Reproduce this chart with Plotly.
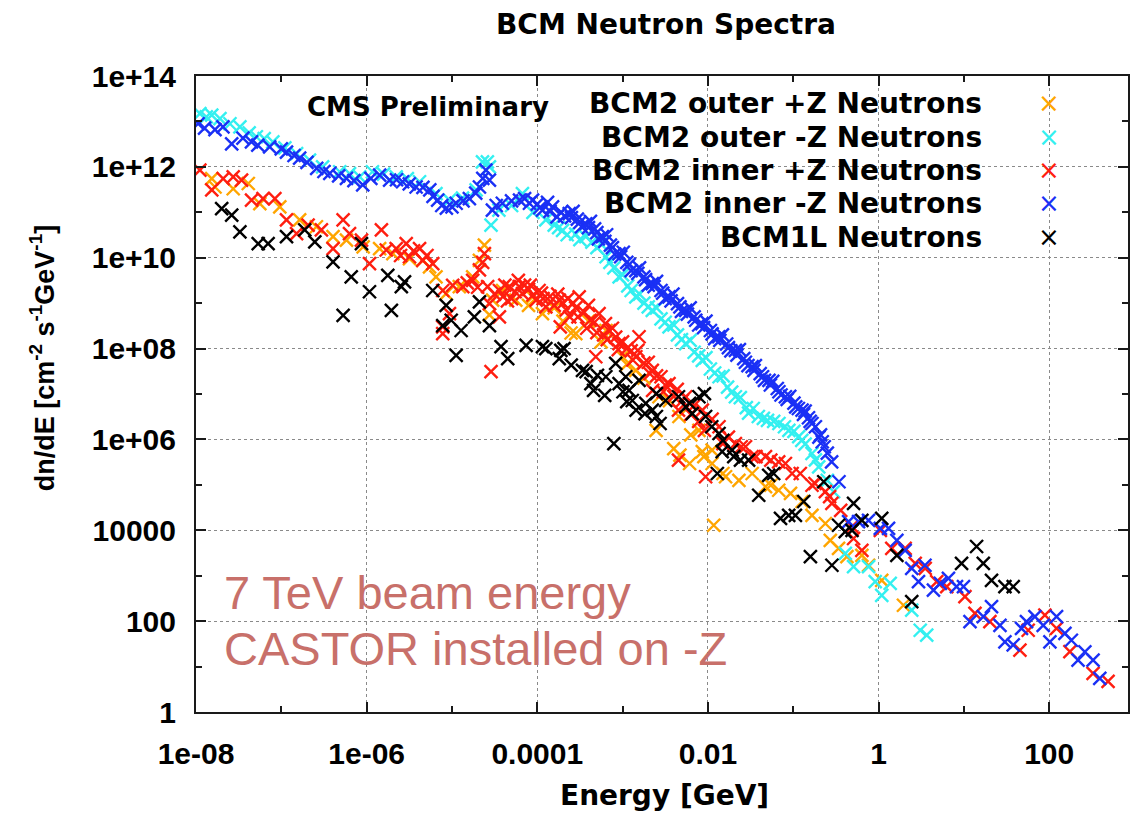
import plotly.graph_objects as go

# ---------------- data ----------------
orange_E = [1.53e-8, 1.67e-8, 2.73e-8, 4.1e-8, 5.6e-8, 9.6e-8, 1.64e-7, 2.58e-7, 4.04e-7, 5.8e-7,
            9.1e-7, 1.42e-6, 2.03e-6, 3.18e-6, 4.55e-6, 5.46e-6, 6.5e-6, 8.55e-6, 1.22e-5, 1.75e-5,
            2.1e-5, 2.4e-5, 2.75e-5, 3.0e-5, 3.93e-5, 5.6e-5, 7.9e-5, 8.8e-5, 1.15e-4, 1.58e-4,
            2.0e-4, 2.49e-4, 2.83e-4, 3.98e-4, 5.6e-4, 6.4e-4, 9.95e-4, 1.12e-3, 1.43e-3, 1.78e-3,
            2.47e-3, 2.67e-3, 3.55e-3, 3.98e-3, 4.58e-3, 4.7e-3, 6.1e-3, 6.3e-3, 7.85e-3, 8.6e-3,
            8.97e-3, 1.12e-2, 1.12e-2, 1.17e-2, 1.5e-2, 1.61e-2, 2.31e-2, 3.3e-2, 4.73e-2, 5.46e-2,
            6.76e-2, 9.3e-2, 0.127, 0.166, 0.238, 0.272, 0.34, 0.426, 0.638, 0.764,
            1.09, 1.96]
orange_V = [5.5e11, 3.6e11, 3.3e11, 4.3e11, 1.55e11, 1.32e11, 6.8e10, 4.8e10, 2.9e10, 2.45e10,
            1.74e10, 1.58e10, 1.23e10, 9.5e9, 8.7e9, 6.3e9, 3.8e9, 1.62e9, 2.3e9, 3.8e9,
            8.7e9, 1.9e10, 5.5e8, 1.17e9, 1.9e9, 1.17e9, 8.9e8, 1.38e9, 5.9e8, 7.9e8,
            4.0e8, 2.2e8, 2.14e8, 4.0e8, 1.41e8, 2.5e8, 6.6e7, 4.5e7, 3.3e7, 2.24e7,
            1.58e6, 8.7e6, 7.1e6, 6.3e5, 3.2e6, 4.5e5, 2.95e5, 1.26e6, 1.58e6, 5.4e5,
            4.2e5, 5.8e5, 2.95e5, 1.29e4, 1.78e5, 1.51e5, 1.26e5, 1.78e5, 9.1e4, 9.8e4,
            7.6e4, 6.5e4, 4.3e4, 2.14e4, 1.41e4, 6.0e3, 4.0e3, 2.63e3, 2.8e3, 1.7e3,
            790, 224]

cyan_E = [1.11e-8, 1.32e-8, 1.53e-8, 1.91e-8, 2.5e-8, 3.27e-8, 4.2e-8, 5.1e-8, 6.3e-8, 7.96e-8,
          1.1e-7, 1.51e-7, 2.14e-7, 3.05e-7, 4.83e-7, 6.3e-7, 8.3e-7, 1.17e-6, 1.58e-6, 2.22e-6,
          3.0e-6, 4.17e-6, 6.5e-6, 9.35e-6, 1.33e-5, 1.92e-5, 2.28e-5, 2.6e-5, 2.75e-5, 2.87e-5,
          3.55e-5, 5.0e-5, 6.7e-5, 8.9e-5, 1.26e-4, 1.58e-4, 1.78e-4, 1.98e-4, 2.24e-4, 2.82e-4,
          3.16e-4, 3.7e-4, 4.37e-4, 5.0e-4, 5.6e-4, 6.4e-4, 7.1e-4, 7.9e-4, 9.1e-4, 1.0e-3,
          1.15e-3, 1.26e-3, 1.43e-3, 1.58e-3, 1.78e-3, 2.0e-3, 2.23e-3, 2.5e-3, 2.82e-3, 3.16e-3,
          3.5e-3, 4.0e-3, 4.4e-3, 4.9e-3, 5.5e-3, 6.2e-3, 6.9e-3, 7.8e-3, 8.6e-3, 9.5e-3,
          1.07e-2, 1.2e-2, 1.35e-2, 1.51e-2, 1.7e-2, 1.9e-2, 2.1e-2, 2.4e-2, 2.82e-2, 3.0e-2,
          3.4e-2, 3.9e-2, 4.47e-2, 5.0e-2, 5.9e-2, 6.8e-2, 7.9e-2, 8.9e-2, 0.102, 0.116,
          0.126, 0.138, 0.166, 0.182, 0.199, 0.251, 0.297, 0.408, 0.51, 0.764,
          0.914, 1.09, 1.37, 2.45, 3.08, 3.67]
cyan_V = [1.48e13, 1.26e13, 1.38e13, 1.15e13, 8.9e12, 7.6e12, 5.6e12, 4.6e12, 4.2e12, 3.55e12,
          2.63e12, 1.95e12, 1.41e12, 1.0e12, 7.8e11, 7.1e11, 6.0e11, 7.8e11, 6.9e11, 6.0e11,
          5.5e11, 4.7e11, 2.57e11, 1.86e11, 2.04e11, 3.1e11, 1.29e12, 1.29e12, 1.0e12, 5.2e10,
          1.12e11, 1.41e11, 2.57e11, 1.0e11, 6.8e10, 5.2e10, 4.6e10, 4.0e10, 3.2e10, 3.3e10,
          2.5e10, 2.9e10, 2.2e10, 1.66e10, 2.0e10, 1.05e10, 7.9e9, 6.0e9, 3.8e9, 4.2e9,
          2.4e9, 1.9e9, 1.38e9, 1.58e9, 1.0e9, 8.3e8, 6.9e8, 7.9e8, 4.5e8, 3.8e8,
          3.0e8, 3.3e8, 2.0e8, 1.58e8, 1.29e8, 1.51e8, 8.3e7, 6.9e7, 5.5e7, 6.3e7,
          3.55e7, 2.9e7, 2.4e7, 2.5e7, 1.41e7, 1.1e7, 8.7e6, 8.3e6, 5.0e6, 3.8e6,
          4.8e6, 3.2e6, 2.9e6, 2.63e6, 2.5e6, 2.24e6, 1.9e6, 1.58e6, 1.51e6, 1.15e6,
          9.5e5, 7.9e5, 4.9e5, 3.55e5, 2.5e5, 1.26e5, 7.1e4, 3.1e3, 1.58e3, 1.58e3,
          740, 370, 680, 174, 63, 49]

red_E = [1.11e-8, 1.53e-8, 2.08e-8, 2.73e-8, 3.42e-8, 4.48e-8, 6.1e-8, 8.4e-8, 1.15e-7, 1.51e-7,
         2.06e-7, 2.95e-7, 4.04e-7, 5.3e-7, 6.3e-7, 8.7e-7, 1.08e-6, 1.49e-6, 1.7e-6, 2.22e-6,
         2.5e-6, 2.91e-6, 3.18e-6, 3.55e-6, 4.17e-6, 4.55e-6, 5.1e-6, 5.96e-6, 7.8e-6, 7.8e-6,
         7.8e-6, 9.35e-6, 1.02e-5, 1.34e-5, 1.51e-5, 1.75e-5, 2.0e-5, 2.1e-5, 2.29e-5, 2.4e-5,
         2.62e-5, 2.75e-5, 2.87e-5, 3.16e-5, 3.6e-5, 3.6e-5, 3.98e-5, 4.17e-5, 4.47e-5, 4.7e-5,
         5.0e-5, 5.5e-5, 6.0e-5, 6.15e-5, 6.7e-5, 7.1e-5, 7.9e-5, 8.3e-5, 8.9e-5, 9.7e-5,
         1.05e-4, 1.12e-4, 1.17e-4, 1.26e-4, 1.41e-4, 1.58e-4, 1.74e-4, 1.81e-4, 1.86e-4, 2.0e-4,
         2.19e-4, 2.29e-4, 2.4e-4, 2.63e-4, 2.82e-4, 3.0e-4, 3.1e-4, 3.55e-4, 3.8e-4, 3.98e-4,
         4.17e-4, 4.7e-4, 4.85e-4, 5.0e-4, 5.3e-4, 6.0e-4, 6.3e-4, 6.6e-4, 6.95e-4, 7.6e-4,
         8.3e-4, 8.9e-4, 9.1e-4, 1.0e-3, 1.12e-3, 1.26e-3, 1.32e-3, 1.43e-3, 1.51e-3, 1.56e-3,
         1.78e-3, 2.0e-3, 2.09e-3, 2.23e-3, 2.25e-3, 2.5e-3, 2.82e-3, 3.0e-3, 3.16e-3, 3.5e-3,
         3.98e-3, 4.37e-3, 4.52e-3, 4.52e-3, 5.0e-3, 5.5e-3, 6.3e-3, 6.9e-3, 7.8e-3, 8.6e-3,
         9.1e-3, 9.4e-3, 1.12e-2, 1.35e-2, 1.5e-2, 1.74e-2, 2.1e-2, 2.46e-2, 2.76e-2, 3.3e-2,
         3.66e-2, 4.73e-2, 5.46e-2, 6.76e-2, 8.1e-2, 9.7e-2, 0.121, 0.166, 0.18, 0.238,
         0.267, 0.284, 0.36, 0.489, 0.51, 0.638, 1.05, 1.43, 2.05, 2.69,
         3.52, 4.81, 6.3, 10.3, 13.5, 20.2, 45.4, 56.8, 89.1, 122,
         175, 327, 490]
red_V = [8.5e11, 3.1e11, 5.5e11, 6.0e11, 5.1e11, 1.86e11, 2.0e11, 2.0e11, 6.8e10, 3.4e10,
         5.2e10, 4.1e10, 1.58e10, 6.8e10, 3.4e10, 2.45e10, 7.4e9, 4.1e10, 1.48e10, 1.58e10,
         1.12e10, 2.04e10, 1.05e10, 1.41e10, 1.58e10, 8.7e9, 1.12e10, 7.4e9, 1.9e9, 3.0e8,
         2.14e8, 5.9e8, 2.45e9, 2.3e9, 2.8e9, 3.16e9, 2.24e9, 5.4e9, 7.9e9, 1.23e10,
         2.3e9, 9.8e8, 3.1e7, 1.58e9, 1.9e9, 5.0e8, 1.41e9, 2.5e9, 1.12e9, 2.3e9,
         1.26e9, 1.78e9, 3.16e9, 2.3e9, 1.62e9, 2.5e9, 2.0e9, 2.5e9, 1.51e9, 1.17e9,
         1.9e9, 1.66e9, 1.26e9, 8.3e8, 1.41e9, 8.9e8, 1.58e9, 1.17e9, 3.0e8, 1.0e9,
         7.1e8, 1.26e9, 5.0e8, 1.0e9, 7.9e8, 5.0e8, 1.38e9, 6.3e8, 2.8e8, 8.9e8,
         4.2e8, 3.8e8, 6.6e7, 2.24e8, 5.9e8, 2.0e8, 3.55e8, 1.58e8, 2.5e8, 2.8e8,
         1.78e8, 9.5e7, 1.29e8, 1.41e8, 1.0e8, 8.9e7, 5.6e7, 6.6e7, 9.1e7, 1.82e8,
         4.8e7, 5.0e7, 2.8e7, 3.3e7, 1.2e7, 2.5e7, 2.4e7, 1.12e7, 1.58e7, 1.7e7,
         8.9e6, 1.26e7, 4.4e6, 3.5e5, 7.1e6, 8.7e6, 3.55e6, 5.6e6, 2.5e6, 4.4e6,
         1.58e6, 1.51e5, 2.8e6, 1.9e6, 8.1e5, 1.12e6, 8.1e5, 6.9e5, 6.9e5, 4.2e5,
         4.2e5, 4.2e5, 3.5e5, 3.2e5, 2.95e5, 1.78e5, 1.78e5, 9.8e4, 1.07e5, 7.1e4,
         5.5e4, 3.9e4, 2.75e4, 1.2e4, 6.6e3, 3.6e3, 1.0e4, 4.0e3, 4.0e3, 1.86e3,
         1.45e3, 740, 575, 347, 148, 98, 22.9, 63, 135, 69,
         21.4, 7.1, 4.7]

blue_E = [1.06e-8, 1.26e-8, 1.67e-8, 2.07e-8, 2.62e-8, 3.55e-8, 4.47e-8, 5.3e-8, 7.3e-8, 1.0e-7,
          1.15e-7, 1.41e-7, 1.64e-7, 2.0e-7, 2.6e-7, 3.16e-7, 3.7e-7, 4.7e-7, 5.8e-7, 7.1e-7,
          9.0e-7, 1.12e-6, 1.42e-6, 1.86e-6, 2.24e-6, 2.64e-6, 3.16e-6, 3.8e-6, 4.57e-6, 5.5e-6,
          6.0e-6, 6.8e-6, 7.6e-6, 8.6e-6, 1.0e-5, 1.12e-5, 1.35e-5, 1.6e-5, 1.9e-5, 2.1e-5,
          2.3e-5, 2.5e-5, 2.75e-5, 2.98e-5, 3.3e-5, 3.9e-5, 5.0e-5, 6.2e-5, 7.1e-5, 8.1e-5,
          8.8e-5, 1.0e-4, 1.07e-4, 1.15e-4, 1.32e-4, 1.41e-4, 1.51e-4, 1.7e-4, 1.9e-4, 2.09e-4,
          2.37e-4, 2.51e-4, 2.63e-4, 2.95e-4, 3.16e-4, 3.3e-4, 3.7e-4, 3.98e-4, 4.2e-4, 4.7e-4,
          5.0e-4, 5.2e-4, 5.8e-4, 6.2e-4, 6.5e-4, 7.2e-4, 7.6e-4, 8.1e-4, 9.1e-4, 9.5e-4,
          1.02e-3, 1.12e-3, 1.2e-3, 1.26e-3, 1.43e-3, 1.51e-3, 1.58e-3, 1.78e-3, 1.86e-3, 2.0e-3,
          2.23e-3, 2.34e-3, 2.5e-3, 2.82e-3, 2.95e-3, 3.16e-3, 3.5e-3, 3.7e-3, 3.9e-3, 4.4e-3,
          4.7e-3, 4.9e-3, 5.5e-3, 5.75e-3, 6.2e-3, 6.9e-3, 7.2e-3, 7.8e-3, 8.5e-3, 8.9e-3,
          9.5e-3, 1.07e-2, 1.12e-2, 1.2e-2, 1.34e-2, 1.38e-2, 1.48e-2, 1.66e-2, 1.74e-2, 1.86e-2,
          2.1e-2, 2.19e-2, 2.34e-2, 2.63e-2, 2.75e-2, 2.95e-2, 3.3e-2, 3.47e-2, 3.6e-2, 4.1e-2,
          4.37e-2, 4.6e-2, 5.2e-2, 5.4e-2, 5.75e-2, 6.5e-2, 6.8e-2, 7.2e-2, 8.1e-2, 8.5e-2,
          9.1e-2, 0.102, 0.107, 0.115, 0.127, 0.132, 0.138, 0.151, 0.158, 0.166,
          0.182, 0.2, 0.209, 0.219, 0.231, 0.251, 0.282, 0.344, 0.446, 0.583,
          0.764, 1.05, 1.31, 1.64, 2.05, 2.45, 2.94, 3.5, 4.4, 5.3,
          6.6, 8.2, 9.9, 11.8, 16.9, 21.1, 26.5, 30.3, 37.9, 47.4,
          54.2, 68.1, 85.1, 102, 122, 153, 182, 218, 262, 327,
          392]
blue_V = [8.9e12, 7.1e12, 6.6e12, 7.6e12, 3.2e12, 4.3e12, 3.55e12, 3.0e12, 2.75e12, 2.5e12,
          2.1e12, 1.78e12, 1.55e12, 1.26e12, 9.3e11, 7.9e11, 7.2e11, 6.3e11, 5.6e11, 5.0e11,
          4.0e11, 5.6e11, 6.6e11, 5.1e11, 5.2e11, 4.7e11, 4.2e11, 3.6e11, 3.55e11, 3.1e11,
          2.24e11, 1.86e11, 1.41e11, 1.23e11, 1.32e11, 1.58e11, 1.78e11, 2.0e11, 2.63e11, 3.6e11,
          5.6e11, 8.5e11, 5.1e11, 1.12e11, 1.41e11, 1.58e11, 1.78e11, 1.86e11, 2.0e11, 1.58e11,
          1.86e11, 1.51e11, 1.26e11, 1.12e11, 1.66e11, 1.05e11, 1.32e11, 7.9e10, 1.0e11, 8.3e10,
          9.3e10, 7.6e10, 1.05e11, 7.1e10, 6.0e10, 4.8e10, 5.6e10, 4.6e10, 6.3e10, 4.3e10,
          3.55e10, 2.6e10, 2.9e10, 2.3e10, 3.2e10, 1.9e10, 1.66e10, 1.2e10, 1.23e10, 1.05e10,
          1.32e10, 7.9e9, 7.1e9, 5.2e9, 5.2e9, 4.5e9, 6.0e9, 3.8e9, 3.3e9, 2.5e9,
          2.7e9, 2.3e9, 3.0e9, 1.9e9, 1.66e9, 1.26e9, 1.38e9, 1.12e9, 1.58e9, 9.8e8,
          8.3e8, 6.6e8, 6.9e8, 5.75e8, 7.9e8, 5.0e8, 4.2e8, 3.3e8, 3.55e8, 2.9e8,
          4.0e8, 2.5e8, 2.1e8, 1.66e8, 1.82e8, 1.51e8, 2.0e8, 1.26e8, 1.05e8, 8.9e7,
          9.1e7, 7.2e7, 9.5e7, 6.0e7, 5.0e7, 4.2e7, 4.0e7, 3.3e7, 4.2e7, 2.8e7,
          2.4e7, 2.0e7, 2.0e7, 1.58e7, 1.9e7, 1.32e7, 1.12e7, 9.5e6, 8.7e6, 7.6e6,
          8.9e6, 6.3e6, 5.2e6, 4.8e6, 4.4e6, 3.55e6, 4.2e6, 3.0e6, 2.5e6, 2.24e6,
          1.9e6, 1.12e6, 1.26e6, 8.9e5, 6.9e5, 5.0e5, 3.2e5, 1.17e5, 1.55e4, 1.55e4,
          1.66e4, 1.1e4, 1.1e4, 6.0e3, 3.6e3, 1.45e3, 740, 1.7e3, 480, 680,
          870, 575, 575, 98, 126, 209, 81, 35, 30, 69,
          98, 126, 81, 35, 126, 54, 38, 13.8, 21, 13.8,
          5.5]

black_E = [2.0e-8, 2.62e-8, 3.27e-8, 5.36e-8, 7.0e-8, 1.15e-7, 1.88e-7, 2.47e-7, 4.04e-7, 5.3e-7,
           6.6e-7, 8.7e-7, 1.08e-6, 1.77e-6, 1.95e-6, 2.55e-6, 2.78e-6, 5.96e-6, 7.8e-6, 8.55e-6,
           9.8e-6, 1.12e-5, 1.28e-5, 1.83e-5, 2.1e-5, 2.75e-5, 3.76e-5, 4.5e-5, 7.4e-5, 1.15e-4,
           1.26e-4, 1.81e-4, 1.89e-4, 2.06e-4, 2.5e-4, 3.39e-4, 3.74e-4, 4.25e-4, 4.57e-4, 5.07e-4,
           6.17e-4, 6.37e-4, 7.9e-4, 8.3e-4, 9.1e-4, 1.01e-3, 1.09e-3, 1.12e-3, 1.19e-3, 1.3e-3,
           1.44e-3, 1.56e-3, 1.83e-3, 1.87e-3, 2.23e-3, 2.49e-3, 2.49e-3, 2.75e-3, 3.2e-3, 4.52e-3,
           5.5e-3, 6.1e-3, 6.55e-3, 7.85e-3, 9.1e-3, 9.4e-3, 1.11e-2, 1.29e-2, 1.35e-2, 1.47e-2,
           1.5e-2, 1.92e-2, 2.01e-2, 2.41e-2, 3.0e-2, 3.94e-2, 5.16e-2, 5.9e-2, 7.1e-2, 8.85e-2,
           0.106, 0.133, 0.159, 0.228, 0.284, 0.34, 0.407, 0.489, 0.51, 0.638,
           1.09, 1.64, 2.45, 9.4, 14.1, 16.9, 21.1, 30.3, 37.9]
black_V = [1.2e11, 8.7e10, 3.7e10, 2.04e10, 2.04e10, 2.9e10, 4.1e10, 2.24e10, 8.1e9, 5.4e8,
           3.8e9, 2.04e10, 1.78e9, 4.1e9, 6.9e8, 2.3e9, 2.95e9, 1.9e9, 3.2e8, 8.9e8,
           4.2e8, 7.1e7, 2.5e8, 5.0e8, 1.07e9, 3.2e8, 1.1e8, 6.0e7, 1.17e8, 1.1e8,
           1.0e8, 6.0e7, 9.1e7, 1.0e8, 4.3e7, 3.3e7, 3.1e7, 1.7e7, 1.2e7, 2.57e7,
           9.3e6, 2.4e7, 8.1e5, 4.7e7, 1.7e7, 1.12e7, 2.4e7, 6.8e6, 1.2e7, 7.2e6,
           4.4e6, 2.0e7, 3.7e6, 6.2e6, 4.4e6, 3.2e6, 1.02e7, 2.24e6, 7.2e6, 8.7e6,
           5.2e6, 6.2e6, 3.7e6, 8.7e6, 1.02e7, 3.2e6, 1.9e6, 1.78e5, 1.35e6, 5.4e5,
           9.5e5, 5.8e5, 4.2e5, 3.5e5, 3.5e5, 5.9e4, 1.62e5, 1.78e5, 1.82e4, 2.14e4,
           2.14e4, 4.3e4, 2.63e3, 1.17e5, 1.7e3, 1.29e4, 9.3e3, 1.0e4, 3.9e4, 1.66e4,
           1.82e4, 2.8e3, 270, 1.86e3, 4.4e3, 1.86e3, 790, 575, 575]

series_names = ["BCM2 outer +Z Neutrons", "BCM2 outer -Z Neutrons", "BCM2 inner +Z Neutrons",
                "BCM2 inner -Z Neutrons", "BCM1L Neutrons"]
series_colors = ["#FFA500", "#33F0F0", "#FF1E10", "#1A30F5", "#000000"]

x_tickvals = [1e-8, 1e-6, 1e-4, 1e-2, 1, 100]
x_ticktext = ["1e-08", "1e-06", "0.0001", "0.01", "1", "100"]
x_minorvals = [1e-7, 1e-5, 1e-3, 1e-1, 10, 1000]
y_tickvals = [1, 100, 1e4, 1e6, 1e8, 1e10, 1e12, 1e14]
y_ticktext = ["1", "100", "10000", "1e+06", "1e+08", "1e+10", "1e+12", "1e+14"]
y_minorvals = [10, 1e3, 1e5, 1e7, 1e9, 1e11, 1e13]

# ---------------- figure ----------------
W, H = 1130, 813
L, R, T, B = 196, 0, 76, 101
PW, PH = W - L - R, H - T - B


def px(x):
    return (x - L) / PW


def py(y):
    return (H - B - y) / PH


fig = go.Figure()
all_series = [(orange_E, orange_V), (cyan_E, cyan_V), (red_E, red_V), (blue_E, blue_V), (black_E, black_V)]
for (xs, ys), name, col in zip(all_series, series_names, series_colors):
    fig.add_trace(go.Scatter(
        x=xs, y=ys, mode="markers", name=name, showlegend=False,
        marker=dict(symbol="x-thin", size=13, color=col, line=dict(width=2.4, color=col)),
    ))

axis_common = dict(
    type="log", showline=True, linecolor="#1a1a1a", linewidth=2, mirror="ticks",
    ticks="inside", ticklen=10, tickwidth=1.5, tickcolor="#1a1a1a",
    showgrid=True, gridcolor="#8a8a8a", gridwidth=1, griddash="dot",
    zeroline=False,
    tickfont=dict(family="Liberation Sans", size=30, color="#000", weight="bold"),
)

fig.update_xaxes(
    **axis_common, range=[-8, 2.924], tickmode="array",
    tickvals=x_tickvals, ticktext=x_ticktext, ticklabelstandoff=14,
    minor=dict(tickmode="array", tickvals=x_minorvals, ticks="inside", ticklen=6,
               tickcolor="#1a1a1a", showgrid=False),
)
fig.update_yaxes(
    **axis_common, range=[0, 14], tickmode="array",
    tickvals=y_tickvals, ticktext=y_ticktext, ticklabelstandoff=12,
    minor=dict(tickmode="array", tickvals=y_minorvals, ticks="inside", ticklen=6,
               tickcolor="#1a1a1a", showgrid=False),
)

ann = []
# title
ann.append(dict(text="BCM Neutron Spectra", x=px(667), y=py(24), xref="paper", yref="paper",
                showarrow=False, xanchor="center", yanchor="middle",
                font=dict(family="DejaVu Sans", size=28, color="#000", weight="bold")))
# axis titles
ann.append(dict(text="Energy [GeV]", x=px(666), y=py(795), xref="paper", yref="paper",
                showarrow=False, xanchor="center", yanchor="middle",
                font=dict(family="DejaVu Sans", size=28, color="#000", weight="bold")))
ann.append(dict(text="dn/dE [cm<sup>-2</sup> s<sup>-1</sup>GeV<sup>-1</sup>]", x=px(42), y=py(358),
                xref="paper", yref="paper", showarrow=False, textangle=-90,
                xanchor="center", yanchor="middle",
                font=dict(family="Liberation Sans", size=27, color="#000", weight="bold")))
# CMS Preliminary
ann.append(dict(text="CMS Preliminary", x=px(428), y=py(107), xref="paper", yref="paper",
                showarrow=False, xanchor="center", yanchor="middle",
                font=dict(family="DejaVu Sans", size=26, color="#000", weight="bold")))
# legend (text right-aligned, marker to the right)
leg_rows = [103, 137, 170, 203, 237]
for name, col, yy in zip(series_names, series_colors, leg_rows):
    ann.append(dict(text=name, x=px(986), y=py(yy), xref="paper", yref="paper",
                    showarrow=False, xanchor="right", yanchor="middle",
                    font=dict(family="DejaVu Sans", size=28, color="#000", weight="bold")))
    ann.append(dict(text="×", x=px(1051), y=py(yy), xref="paper", yref="paper",
                    showarrow=False, xanchor="center", yanchor="middle",
                    font=dict(family="DejaVu Sans", size=26, color=col)))
# beam info text
ann.append(dict(text="7 TeV beam energy", x=px(222), y=py(592), xref="paper", yref="paper",
                showarrow=False, xanchor="left", yanchor="middle",
                font=dict(family="Liberation Sans", size=47, color="#C8706A")))
ann.append(dict(text="CASTOR installed on -Z", x=px(222), y=py(648), xref="paper", yref="paper",
                showarrow=False, xanchor="left", yanchor="middle",
                font=dict(family="Liberation Sans", size=47, color="#C8706A")))

fig.update_layout(
    width=W, height=H, margin=dict(l=L, r=R, t=T, b=B, pad=0),
    paper_bgcolor="white", plot_bgcolor="white",
    annotations=ann, showlegend=False,
)

fig.write_html("out.html")
